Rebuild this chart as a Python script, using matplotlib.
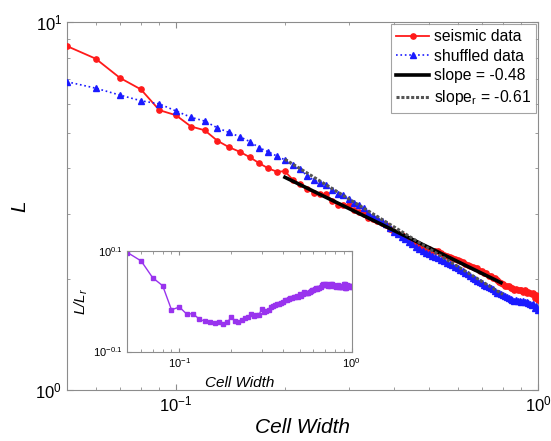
import numpy as np
import matplotlib
matplotlib.use("Agg")
import matplotlib.pyplot as plt
from matplotlib.ticker import NullFormatter, NullLocator, FixedLocator

plt.rcParams['font.family'] = ['Liberation Sans', 'DejaVu Sans']
plt.rcParams['mathtext.fontset'] = 'custom'
plt.rcParams['mathtext.rm'] = 'Liberation Sans'
plt.rcParams['mathtext.it'] = 'Liberation Sans:italic'
plt.rcParams['mathtext.default'] = 'regular'

# ---------------- data ----------------
cell_width = [0.05, 0.06, 0.07, 0.08, 0.09, 0.10, 0.11, 0.12, 0.13, 0.14,
              0.15, 0.16, 0.17, 0.18, 0.19, 0.20, 0.21, 0.22, 0.23, 0.24,
              0.25, 0.26, 0.27, 0.28, 0.29, 0.30, 0.31, 0.32, 0.33, 0.34,
              0.35, 0.36, 0.37, 0.38, 0.39, 0.40, 0.41, 0.42, 0.43, 0.44,
              0.45, 0.46, 0.47, 0.48, 0.49, 0.50, 0.51, 0.52, 0.53, 0.54,
              0.55, 0.56, 0.57, 0.58, 0.59, 0.60, 0.61, 0.62, 0.63, 0.64,
              0.65, 0.66, 0.67, 0.68, 0.69, 0.70, 0.71, 0.72, 0.73, 0.74,
              0.75, 0.76, 0.77, 0.78, 0.79, 0.80, 0.81, 0.82, 0.83, 0.84,
              0.85, 0.86, 0.87, 0.88, 0.89, 0.90, 0.91, 0.92, 0.93, 0.94,
              0.95, 0.96, 0.97, 0.98, 0.99, 1.00]

seismic_L = [8.60, 7.95, 7.05, 6.56, 5.76, 5.58, 5.20, 5.08, 4.76, 4.57,
             4.44, 4.29, 4.13, 4.00, 3.92, 3.93, 3.73, 3.62, 3.51, 3.44,
             3.41, 3.40, 3.27, 3.19, 3.19, 3.18, 3.08, 3.04, 3.00, 2.94,
             2.91, 2.88, 2.84, 2.80, 2.73, 2.68, 2.66, 2.63, 2.60, 2.57,
             2.53, 2.50, 2.47, 2.45, 2.41, 2.42, 2.38, 2.38, 2.38, 2.35,
             2.33, 2.31, 2.30, 2.29, 2.27, 2.25, 2.24, 2.23, 2.20, 2.19,
             2.17, 2.16, 2.15, 2.14, 2.11, 2.11, 2.08, 2.08, 2.04, 2.04,
             2.02, 2.01, 1.99, 1.97, 1.95, 1.94, 1.92, 1.92, 1.92, 1.89,
             1.89, 1.87, 1.88, 1.87, 1.87, 1.87, 1.85, 1.87, 1.84, 1.85,
             1.83, 1.82, 1.83, 1.78, 1.81, 1.76]

shuffled_L = [6.88, 6.61, 6.33, 6.11, 5.99, 5.73, 5.51, 5.38, 5.16, 5.01,
              4.88, 4.73, 4.55, 4.44, 4.32, 4.22, 4.08, 3.99, 3.82, 3.72,
              3.66, 3.61, 3.50, 3.40, 3.39, 3.30, 3.23, 3.18, 3.12, 3.02,
              2.97, 2.93, 2.88, 2.83, 2.75, 2.69, 2.65, 2.61, 2.57, 2.53,
              2.49, 2.45, 2.42, 2.39, 2.36, 2.34, 2.32, 2.30, 2.28, 2.26,
              2.24, 2.22, 2.20, 2.18, 2.16, 2.14, 2.12, 2.10, 2.08, 2.06,
              2.04, 2.02, 2.00, 1.98, 1.96, 1.95, 1.93, 1.92, 1.90, 1.89,
              1.88, 1.86, 1.84, 1.83, 1.82, 1.81, 1.80, 1.79, 1.78, 1.77,
              1.76, 1.75, 1.76, 1.75, 1.74, 1.73, 1.74, 1.73, 1.73, 1.72,
              1.71, 1.70, 1.71, 1.67, 1.69, 1.65]

# power-law fits: L = 10**log_prefactor * w**slope over fit range
fit_slope = -0.48
fit_log_prefactor = 0.2425
fit_range = [0.20, 0.79]
fit_slope_r = -0.61
fit_log_prefactor_r = 0.2006
fit_range_r = [0.20, 0.80]

# ---------------- figure ----------------
W, H = 551, 441
fig = plt.figure(figsize=(W / 100, H / 100), dpi=100)
ax = fig.add_axes([67 / W, 1 - 390 / H, (538 - 67) / W, (390 - 22) / H])

spine_col = '#8c8c8c'
x = np.array(cell_width)
s = np.array(seismic_L)
r = np.array(shuffled_L)

ax.plot(x, s, '-', color='#ff1a1a', lw=1.3, marker='o', ms=3.8, mec='#ff1a1a',
        mfc='#ff1a1a', label='seismic data', zorder=3)
ax.plot(x, r, ':', color='#1a1aff', lw=1.2, marker='^', ms=3.8, mec='#1a1aff',
        mfc='#1a1aff', label='shuffled data', zorder=3)

xf = np.array(fit_range)
ax.plot(xf, 10 ** fit_log_prefactor * xf ** fit_slope, '-', color='black', lw=2.6,
        label='slope = %.2f' % fit_slope, zorder=4)
xr = np.array(fit_range_r)
ax.plot(xr, 10 ** fit_log_prefactor_r * xr ** fit_slope_r, linestyle=(0, (1, 0.6)),
        color='#555555', lw=2.2, label=r'slope$_{\mathrm{r}}$ = %.2f' % fit_slope_r, zorder=4)

ax.set_xscale('log')
ax.set_yscale('log')
ax.set_xlim(0.05, 1.0)
ax.set_ylim(1.0, 10.0)
ax.xaxis.set_minor_formatter(NullFormatter())
ax.yaxis.set_minor_formatter(NullFormatter())
ax.tick_params(which='both', direction='in', top=True, right=True, color=spine_col,
               labelsize=12)
ax.tick_params(which='major', length=4)
ax.tick_params(which='minor', length=2.5)
for sp in ax.spines.values():
    sp.set_color(spine_col)
ax.set_xlabel('Cell Width', fontsize=15, style='italic', labelpad=2)
ax.set_ylabel('L', fontsize=15, style='italic', labelpad=4)

leg = ax.legend(loc='upper right', fontsize=11.3, frameon=True, fancybox=False,
                borderaxespad=0.1, handlelength=2.1, handletextpad=0.3,
                labelspacing=0.3, borderpad=0.35)
leg.get_frame().set_edgecolor(spine_col)
leg.get_frame().set_linewidth(0.8)

# ---------------- inset ----------------
ratio = s / r
axi = fig.add_axes([127.5 / W, 1 - 351.5 / H, (351.7 - 127.5) / W, (351.5 - 251) / H])
axi.plot(x, ratio, '-', color='#9933ee', lw=1.0, marker='s', ms=2.2,
         mec='#9933ee', mfc='#9933ee')
axi.set_xscale('log')
axi.set_yscale('log')
axi.set_xlim(0.05, 1.0)
axi.set_ylim(10 ** -0.1, 10 ** 0.1)
axi.yaxis.set_major_locator(FixedLocator([10 ** -0.1, 10 ** 0.1]))
axi.yaxis.set_minor_locator(NullLocator())
axi.set_yticklabels([r'$10^{-0.1}$', r'$10^{0.1}$'])
axi.xaxis.set_minor_formatter(NullFormatter())
axi.tick_params(which='both', direction='in', top=True, right=True, color=spine_col,
                labelsize=8)
axi.tick_params(which='major', length=3)
axi.tick_params(which='minor', length=2)
for sp in axi.spines.values():
    sp.set_color(spine_col)
axi.set_xlabel('Cell Width', fontsize=11, style='italic', labelpad=4)
axi.set_ylabel(r'L/L$_{r}$', fontsize=11, style='italic', labelpad=2)

fig.savefig('out.png', dpi=100)
